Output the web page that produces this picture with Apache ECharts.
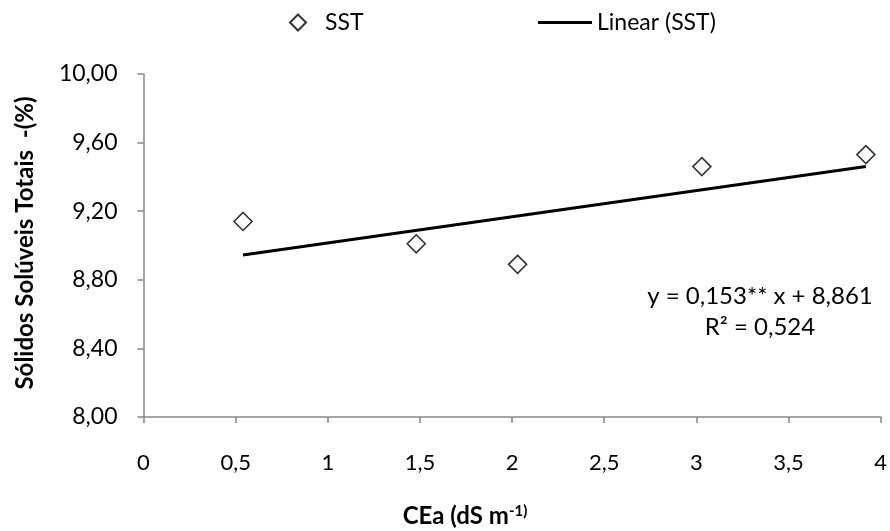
<!DOCTYPE html>
<html>
<head>
<meta charset="utf-8">
<script src="https://cdn.jsdelivr.net/npm/echarts@6/dist/echarts.min.js"></script>
<style>
  html, body { margin: 0; padding: 0; background: #fff; }
  #chart { width: 890px; height: 531px; }
</style>
</head>
<body>
<div id="chart"></div>
<script>
// CEa (dS m-1) e SST (%)
var cea = [0.54, 1.48, 2.03, 3.03, 3.92];
var sst = [9.14, 9.01, 8.89, 9.46, 9.53];
// extremos da linha de tendencia
var trendX = [0.54, 3.92];
var trendY = [8.944, 9.461];
var yTicks = ['8,00', '8,40', '8,80', '9,20', '9,60', '10,00'];
var eqLines = ['y = 0,153** x + 8,861', 'R² = 0,524'];

var font = 'Lato';
var axisGray = '#868686';

var chart = echarts.init(document.getElementById('chart'));
chart.setOption({
  animation: false,
  textStyle: { fontFamily: font },
  legend: [
    {
      left: 284, top: 6,
      itemWidth: 16, itemHeight: 16,
      textStyle: { fontSize: 23, color: '#000', padding: [0, 0, 0, 14] },
      data: ['SST']
    },
    {
      left: 533, top: 6,
      itemWidth: 54, itemHeight: 3,
      textStyle: { fontSize: 23, color: '#000' },
      data: [{ name: 'Linear (SST)', icon: 'rect' }]
    }
  ],
  grid: { left: 143.5, right: 8.3, top: 74, bottom: 114 },
  xAxis: {
    type: 'value', min: 0, max: 4, interval: 0.5,
    axisLine: { lineStyle: { color: axisGray, width: 1.5 } },
    axisTick: { show: true, length: 6, lineStyle: { color: axisGray, width: 1.5 } },
    splitLine: { show: false },
    axisLabel: {
      margin: 35, fontSize: 22, color: '#000',
      formatter: function (v) { return String(v).replace('.', ','); }
    }
  },
  yAxis: {
    type: 'value', min: 8, max: 10, interval: 0.4,
    axisLine: { show: true, lineStyle: { color: axisGray, width: 1.5 } },
    axisTick: { show: true, length: 6, lineStyle: { color: axisGray, width: 1.5 } },
    splitLine: { show: false },
    axisLabel: {
      margin: 26, fontSize: 23, color: '#000',
      formatter: function (v) { return yTicks[Math.round((v - 8) / 0.4)]; }
    }
  },
  series: [
    {
      name: 'SST', type: 'scatter',
      symbol: 'diamond', symbolSize: 18,
      itemStyle: { color: '#fff', borderColor: '#000', borderWidth: 1.6 },
      data: cea.map(function (x, i) { return [x, sst[i]]; })
    },
    {
      name: 'Linear (SST)', type: 'line',
      showSymbol: false, symbol: 'none',
      lineStyle: { color: '#000', width: 3 },
      itemStyle: { color: '#000' },
      data: trendX.map(function (x, i) { return [x, trendY[i]]; })
    }
  ],
  graphic: [
    {
      type: 'text', x: 760, y: 312,
      style: {
        text: eqLines.join('\n'), font: '24px ' + font, fill: '#000',
        textAlign: 'center', textVerticalAlign: 'middle', lineHeight: 31
      }
    },
    {
      type: 'text', x: 465, y: 516,
      style: {
        rich: {
          b: { fontFamily: font, fontSize: 24, fontWeight: 'bold', fill: '#000' },
          sup: { fontFamily: font, fontSize: 15, fontWeight: 'bold', fill: '#000', verticalAlign: 'top', padding: [0, 0, 10, 0] }
        },
        text: '{b|CEa (dS m}{sup|-1)}',
        textAlign: 'center', textVerticalAlign: 'middle'
      }
    },
    {
      type: 'text', x: 25, y: 243, rotation: Math.PI / 2,
      style: {
        text: 'Sólidos Solúveis Totais  -(%)',
        font: 'bold 24px ' + font, fill: '#000',
        textAlign: 'center', textVerticalAlign: 'middle'
      }
    }
  ]
});
</script>
</body>
</html>
